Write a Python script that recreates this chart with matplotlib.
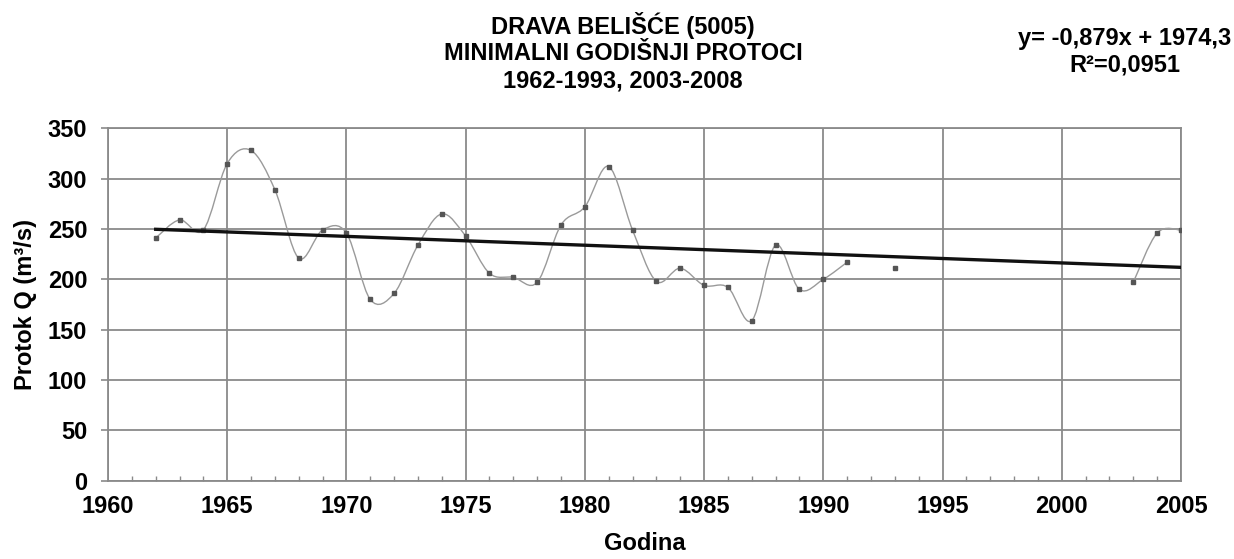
import numpy as np
import matplotlib
matplotlib.use("Agg")
import matplotlib.pyplot as plt
from matplotlib.path import Path
from matplotlib.patches import PathPatch
from matplotlib.ticker import MultipleLocator

plt.rcParams['font.family'] = ['Liberation Sans', 'DejaVu Sans']

# ---- data ----
years = [1962, 1963, 1964, 1965, 1966, 1967, 1968, 1969, 1970, 1971,
         1972, 1973, 1974, 1975, 1976, 1977, 1978, 1979, 1980, 1981,
         1982, 1983, 1984, 1985, 1986, 1987, 1988, 1989, 1990, 1991,
         1992, 1993, 2003, 2004, 2005]
flows = [241, 259, 249, 315, 328, 289, 221, 249, 246, 180,
         186, 234, 265, 243, 206, 202, 197, 254, 272, 312,
         249, 198, 211, 194, 192, 159, 234, 190, 200, 217,
         np.nan, 211, 197, 246, 249]

trend_slope = -0.879
trend_intercept = 1974.3
trend_years = [1962, 2005]

title_lines = ["DRAVA BELIŠĆE (5005)", "MINIMALNI GODIŠNJI PROTOCI", "1962-1993, 2003-2008"]
eq_text = "y= -0,879x + 1974,3\nR²=0,0951"
x_ticks = [1960, 1965, 1970, 1975, 1980, 1985, 1990, 1995, 2000, 2005]
y_ticks = [0, 50, 100, 150, 200, 250, 300, 350]

fig = plt.figure(figsize=(12.34, 5.59), dpi=100)
ax = fig.add_axes([0.0875, 0.14, 0.8695, 0.6305])

grid_c = '#8a8a8a'
FS = 17


def segments(xs, ys):
    segs, cur = [], []
    for x, y in zip(xs, ys):
        if np.isnan(y):
            if cur:
                segs.append(cur)
            cur = []
        else:
            if cur and x - cur[-1][0] > 1:
                segs.append(cur)
                cur = []
            cur.append((x, y))
    if cur:
        segs.append(cur)
    return segs


def smooth_path(pts):
    pts = np.asarray(pts, float)
    verts = [pts[0]]
    codes = [Path.MOVETO]
    n = len(pts)
    for i in range(n - 1):
        p0 = pts[i - 1] if i > 0 else pts[i]
        p1 = pts[i]
        p2 = pts[i + 1]
        p3 = pts[i + 2] if i + 2 < n else pts[i + 1]
        c1 = p1 + (p2 - p0) / 6.0
        c2 = p2 - (p3 - p1) / 6.0
        verts += [c1, c2, p2]
        codes += [Path.CURVE4] * 3
    return Path(verts, codes)


for seg in segments(years, flows):
    if len(seg) > 1:
        ax.add_patch(PathPatch(smooth_path(seg), facecolor='none',
                               edgecolor='#9a9a9a', lw=1.0, zorder=3))

ax.plot(years, flows, linestyle='none', marker='s', markersize=3.0,
        color='#555555', zorder=4)

ty = [trend_slope * x + trend_intercept for x in trend_years]
ax.plot(trend_years, ty, color='#111111', lw=2.4, zorder=5)

ax.set_xlim(1960, 2005)
ax.set_ylim(0, 350)
ax.set_xticks(x_ticks)
ax.set_yticks(y_ticks)
ax.xaxis.set_minor_locator(MultipleLocator(1))
ax.grid(True, which='major', color=grid_c, lw=1.3, zorder=1)
for s in ax.spines.values():
    s.set_color(grid_c)
    s.set_linewidth(1.3)

ax.tick_params(axis='x', which='major', length=0, pad=10, labelsize=FS)
ax.tick_params(axis='x', which='minor', direction='in', length=3.5, color=grid_c, width=1)
ax.tick_params(axis='y', which='major', direction='out', length=5, color=grid_c,
               width=1.2, pad=10, labelsize=FS)
for lab in ax.get_xticklabels() + ax.get_yticklabels():
    lab.set_fontweight('bold')

ax.set_xlabel("Godina", fontsize=FS, fontweight='bold', labelpad=10)
ax.set_ylabel("Protok Q (m³/s)", fontsize=FS, fontweight='bold', labelpad=8)

fig.text(0.505, 0.907, "\n".join(title_lines), ha='center', va='center',
         fontsize=FS, fontweight='bold', linespacing=1.2)
fig.text(0.9114, 0.908, eq_text, ha='center', va='center',
         fontsize=FS, fontweight='bold', linespacing=1.2)

fig.savefig("out.png", dpi=100)
